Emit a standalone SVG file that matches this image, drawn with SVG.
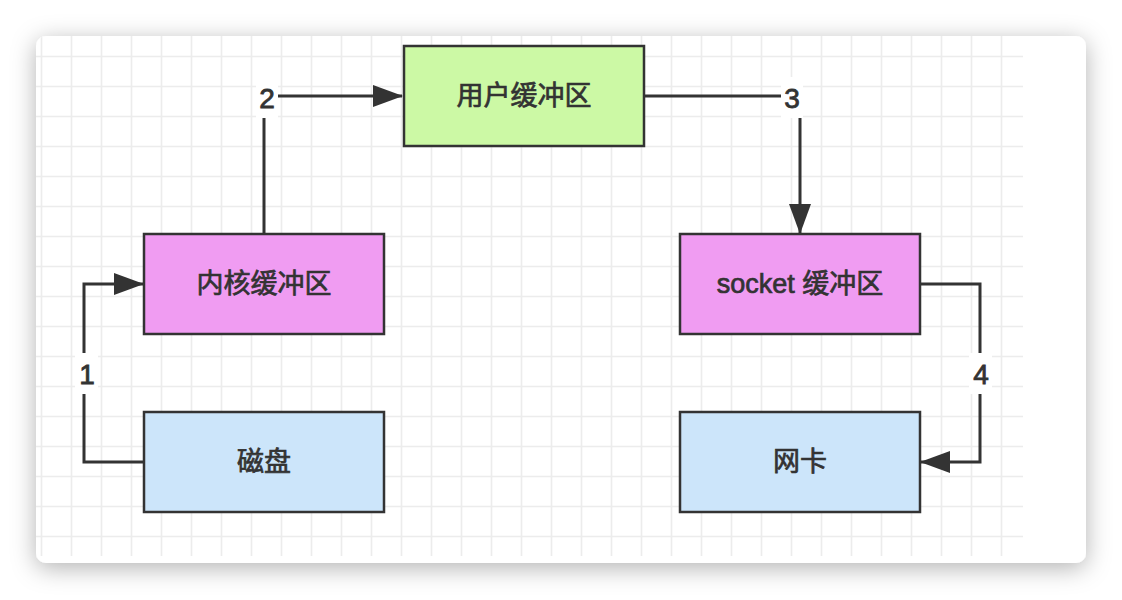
<svg xmlns="http://www.w3.org/2000/svg" width="1122" height="600" viewBox="0 0 1122 600">
  <style>
    .box { stroke: #333333; stroke-width: 2.5; }
    .t { font-family: "Liberation Sans", "Noto Sans CJK SC", sans-serif; font-size: 27px; font-weight: 400; fill: #333333; stroke: #333333; stroke-width: 0.7; text-anchor: middle; dominant-baseline: central; }
    .lbl { font-family: "Liberation Sans", "Noto Sans CJK SC", sans-serif; font-size: 28px; font-weight: 400; fill: #333333; stroke: #333333; stroke-width: 0.8; text-anchor: middle; dominant-baseline: central; }
    .edge { fill: none; stroke: #333333; stroke-width: 3; }
    .grid line { stroke: #ececec; stroke-width: 1.6; }
  </style>
  <defs>
    <filter id="shadow" x="-10%" y="-15%" width="120%" height="135%">
      <feDropShadow dx="0" dy="5" stdDeviation="12" flood-color="#000000" flood-opacity="0.3"/>
    </filter>
    <clipPath id="cardClip">
      <rect x="36" y="36" width="1050" height="527" rx="10"/>
    </clipPath>
    <marker id="arrow" viewBox="0 0 30 22" refX="29" refY="11" markerWidth="30" markerHeight="22" markerUnits="userSpaceOnUse" orient="auto">
      <path d="M0,0 L30,11 L0,22 Z" fill="#333333"/>
    </marker>
  </defs>
  <rect x="0" y="0" width="1122" height="600" fill="#ffffff"/>
  <rect x="36" y="36" width="1050" height="527" rx="10" fill="#ffffff" filter="url(#shadow)"/>
  <g class="grid" clip-path="url(#cardClip)">
    <line x1="41.5" y1="36" x2="41.5" y2="556"/>
    <line x1="71.5" y1="36" x2="71.5" y2="556"/>
    <line x1="101.5" y1="36" x2="101.5" y2="556"/>
    <line x1="131.5" y1="36" x2="131.5" y2="556"/>
    <line x1="161.5" y1="36" x2="161.5" y2="556"/>
    <line x1="191.5" y1="36" x2="191.5" y2="556"/>
    <line x1="221.5" y1="36" x2="221.5" y2="556"/>
    <line x1="251.5" y1="36" x2="251.5" y2="556"/>
    <line x1="281.5" y1="36" x2="281.5" y2="556"/>
    <line x1="311.5" y1="36" x2="311.5" y2="556"/>
    <line x1="341.5" y1="36" x2="341.5" y2="556"/>
    <line x1="371.5" y1="36" x2="371.5" y2="556"/>
    <line x1="401.5" y1="36" x2="401.5" y2="556"/>
    <line x1="431.5" y1="36" x2="431.5" y2="556"/>
    <line x1="461.5" y1="36" x2="461.5" y2="556"/>
    <line x1="491.5" y1="36" x2="491.5" y2="556"/>
    <line x1="521.5" y1="36" x2="521.5" y2="556"/>
    <line x1="551.5" y1="36" x2="551.5" y2="556"/>
    <line x1="581.5" y1="36" x2="581.5" y2="556"/>
    <line x1="611.5" y1="36" x2="611.5" y2="556"/>
    <line x1="641.5" y1="36" x2="641.5" y2="556"/>
    <line x1="671.5" y1="36" x2="671.5" y2="556"/>
    <line x1="701.5" y1="36" x2="701.5" y2="556"/>
    <line x1="731.5" y1="36" x2="731.5" y2="556"/>
    <line x1="761.5" y1="36" x2="761.5" y2="556"/>
    <line x1="791.5" y1="36" x2="791.5" y2="556"/>
    <line x1="821.5" y1="36" x2="821.5" y2="556"/>
    <line x1="851.5" y1="36" x2="851.5" y2="556"/>
    <line x1="881.5" y1="36" x2="881.5" y2="556"/>
    <line x1="911.5" y1="36" x2="911.5" y2="556"/>
    <line x1="941.5" y1="36" x2="941.5" y2="556"/>
    <line x1="971.5" y1="36" x2="971.5" y2="556"/>
    <line x1="1001.5" y1="36" x2="1001.5" y2="556"/>
    <line x1="36" y1="56.5" x2="1023" y2="56.5"/>
    <line x1="36" y1="86.5" x2="1023" y2="86.5"/>
    <line x1="36" y1="116.5" x2="1023" y2="116.5"/>
    <line x1="36" y1="146.5" x2="1023" y2="146.5"/>
    <line x1="36" y1="176.5" x2="1023" y2="176.5"/>
    <line x1="36" y1="206.5" x2="1023" y2="206.5"/>
    <line x1="36" y1="236.5" x2="1023" y2="236.5"/>
    <line x1="36" y1="266.5" x2="1023" y2="266.5"/>
    <line x1="36" y1="296.5" x2="1023" y2="296.5"/>
    <line x1="36" y1="326.5" x2="1023" y2="326.5"/>
    <line x1="36" y1="356.5" x2="1023" y2="356.5"/>
    <line x1="36" y1="386.5" x2="1023" y2="386.5"/>
    <line x1="36" y1="416.5" x2="1023" y2="416.5"/>
    <line x1="36" y1="446.5" x2="1023" y2="446.5"/>
    <line x1="36" y1="476.5" x2="1023" y2="476.5"/>
    <line x1="36" y1="506.5" x2="1023" y2="506.5"/>
    <line x1="36" y1="536.5" x2="1023" y2="536.5"/>
  </g>

  <g id="connectors">
    <path class="edge" d="M144,462 H84 V284 H143" marker-end="url(#arrow)"/>
    <path class="edge" d="M264,234 V96 H402" marker-end="url(#arrow)"/>
    <path class="edge" d="M644,96 H800 V233" marker-end="url(#arrow)"/>
    <path class="edge" d="M920,284 H980 V462 H921" marker-end="url(#arrow)"/>
    <g id="label-1">
      <rect x="75" y="353" width="23" height="41" fill="#ffffff"/>
      <text class="lbl" x="87" y="374">1</text>
    </g>
    <g id="label-2">
      <rect x="256" y="77" width="22" height="41" fill="#ffffff"/>
      <text class="lbl" x="267" y="98">2</text>
    </g>
    <g id="label-3">
      <rect x="781" y="77" width="22" height="41" fill="#ffffff"/>
      <text class="lbl" x="792" y="98">3</text>
    </g>
    <g id="label-4">
      <rect x="969" y="353" width="23" height="41" fill="#ffffff"/>
      <text class="lbl" x="981" y="374">4</text>
    </g>
  </g>

  <g id="node-user-buffer">
    <rect class="box" x="404" y="46" width="240" height="100" fill="#ccf9a5"/>
    <text class="t" x="524" y="96">用户缓冲区</text>
  </g>
  <g id="node-kernel-buffer">
    <rect class="box" x="144" y="234" width="240" height="100" fill="#f09cf2"/>
    <text class="t" x="264" y="284">内核缓冲区</text>
  </g>
  <g id="node-socket-buffer">
    <rect class="box" x="680" y="234" width="240" height="100" fill="#f09cf2"/>
    <text class="t" x="800" y="284">socket 缓冲区</text>
  </g>
  <g id="node-disk">
    <rect class="box" x="144" y="412" width="240" height="100" fill="#cce5fa"/>
    <text class="t" x="264" y="462">磁盘</text>
  </g>
  <g id="node-nic">
    <rect class="box" x="680" y="412" width="240" height="100" fill="#cce5fa"/>
    <text class="t" x="800" y="462">网卡</text>
  </g>
</svg>
